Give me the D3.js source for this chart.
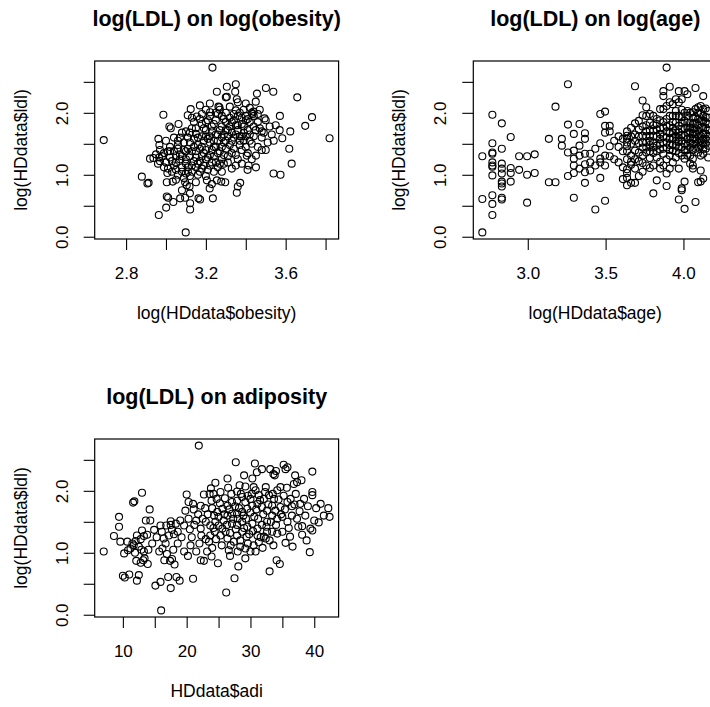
<!DOCTYPE html>
<html>
<head>
<meta charset="utf-8">
<script src="https://cdn.jsdelivr.net/npm/d3@7"></script>
<style>
  body { margin: 0; background: #fff; }
  text { font-family: "Liberation Sans", Arial, Helvetica, sans-serif; fill: #000; }
</style>
</head>
<body>
<svg id="chart" width="710" height="707"></svg>
<script>
// ---- tick values and labels ----
const ldlTicks = [0, 0.5, 1, 1.5, 2, 2.5];
const ldlTickLabels = ["0.0", "", "1.0", "", "2.0", ""];
const obesityTicks = [2.8, 3.0, 3.2, 3.4, 3.6, 3.8];
const obesityTickLabels = ["2.8", "", "3.2", "", "3.6", ""];
const ageTicks = [3.0, 3.5, 4.0];
const ageTickLabels = ["3.0", "3.5", "4.0"];
const adiTicks = [10, 15, 20, 25, 30, 35, 40];
const adiTickLabels = ["10", "", "20", "", "30", "", "40"];

// ---- panel 1: [log(obesity), log(ldl)] ----
const obesityLdl = [
  [3.233,2.73],[2.688,1.56],[3.82,1.59],[3.658,2.25],[3.732,1.93],[3.698,1.79],[3.571,1.95],
  [3.501,2.40],[3.538,2.34],[3.456,2.31],[3.350,2.46],[3.305,2.42],[3.255,2.34],[3.347,2.34],
  [3.305,2.26],[3.623,1.70],[3.583,1.59],[3.618,1.42],[3.630,1.18],[3.539,1.02],[3.574,1.00],
  [2.987,1.97],[3.124,2.06],[2.962,1.58],[2.967,1.48],[2.920,1.26],[2.937,1.27],[2.966,1.28],
  [2.879,0.97],[2.913,0.87],[2.907,0.86],[3.004,0.88],[3.034,0.89],[3.004,0.65],[3.011,0.63],
  [3.001,0.47],[2.964,0.35],[3.037,0.56],[3.071,0.62],[3.096,0.63],[3.121,0.54],[3.121,0.44],
  [3.099,0.07],[3.163,0.62],[3.171,0.60],[3.235,0.62],[3.219,0.78],[3.355,0.71],[3.372,0.87],
  [3.360,0.81],[3.104,0.83],[3.096,0.88],[3.118,0.81],[3.205,0.91],[3.255,0.91],[3.277,0.89],
  [3.297,0.88],[3.409,1.08],[3.451,1.12],[3.414,1.15],[3.451,1.31],[3.405,1.31],[3.007,1.03],
  [3.024,1.75],[3.017,1.78],[3.063,1.82],[3.109,1.96],[3.155,1.94],[3.221,2.01],[3.263,2.10],
  [3.268,2.09],[3.355,2.22],[3.360,2.17],[3.439,2.02],[3.434,1.98],[3.494,1.91],
  [3.01,1.10],[3.03,1.22],[2.99,1.35],[3.02,1.45],[3.04,1.15],[2.98,1.30],[3.00,1.20],[2.97,1.40],
  [3.06,1.00],[3.08,1.12],[3.07,1.25],[3.09,1.40],[3.06,1.55],[3.08,1.68],[3.09,0.95],[3.05,1.20],
  [3.07,1.33],[3.11,1.05],[3.13,1.15],[3.12,1.30],[3.14,1.45],[3.11,1.60],[3.13,1.75],[3.14,1.85],
  [3.12,0.98],[3.10,1.38],[3.14,1.22],[3.16,1.00],[3.18,1.10],[3.17,1.22],[3.19,1.35],[3.16,1.48],
  [3.18,1.62],[3.19,1.75],[3.17,1.90],[3.15,1.28],[3.19,1.55],[3.21,1.08],[3.23,1.20],[3.22,1.32],
  [3.24,1.45],[3.21,1.58],[3.23,1.70],[3.24,1.82],[3.22,1.95],[3.20,1.40],[3.25,1.65],[3.26,1.12],
  [3.28,1.25],[3.27,1.38],[3.29,1.52],[3.26,1.65],[3.28,1.78],[3.29,1.90],[3.27,2.05],[3.25,1.45],
  [3.30,1.72],[3.31,1.20],[3.33,1.35],[3.32,1.48],[3.34,1.60],[3.31,1.72],[3.33,1.85],[3.34,1.98],
  [3.32,2.10],[3.30,1.55],[3.35,1.80],[3.36,1.25],[3.38,1.40],[3.37,1.55],[3.39,1.68],[3.36,1.80],
  [3.38,1.92],[3.39,2.05],[3.37,1.62],[3.40,1.88],[3.41,1.35],[3.43,1.50],[3.42,1.65],[3.44,1.78],
  [3.41,1.90],[3.43,2.00],[3.45,1.72],[3.46,1.45],[3.48,1.60],[3.47,1.75],[3.50,1.88],[3.49,1.68],
  [3.51,1.52],[3.53,1.65],[3.55,1.80],[3.57,1.72],
  [2.95,1.33],[2.96,1.18],[3.02,1.38],[3.05,1.08],[3.10,1.18],[3.15,1.12],[3.20,1.25],[3.24,1.05],
  [3.29,1.18],[3.33,1.10],[3.15,1.66],[3.20,1.85],[3.26,1.98],[3.35,2.04],[3.42,2.08],[3.46,1.98],
  [3.12,1.52],[3.06,1.42],[3.28,1.60],[3.40,1.45],[3.48,1.40],[3.38,1.18],[3.18,1.45],[3.22,1.52],
  [3.02,1.28],[3.04,1.38],[3.03,1.05],[3.05,1.30],[3.06,1.48],[3.08,1.05],[3.08,1.30],[3.09,1.52],
  [3.10,1.25],[3.11,1.42],[3.11,1.12],[3.12,1.68],[3.13,1.38],[3.13,1.05],[3.14,1.58],[3.15,1.38],
  [3.15,1.75],[3.16,1.18],[3.16,1.60],[3.17,1.42],[3.17,1.05],[3.18,1.30],[3.18,1.82],[3.19,1.15],
  [3.20,1.62],[3.20,1.72],[3.21,1.28],[3.21,1.88],[3.22,1.15],[3.22,1.62],[3.23,1.40],[3.23,1.78],
  [3.24,1.30],[3.24,1.55],[3.25,1.20],[3.25,1.88],[3.26,1.35],[3.26,1.55],[3.27,1.72],[3.27,1.18],
  [3.28,1.45],[3.28,1.95],[3.29,1.32],[3.29,1.65],[3.30,1.42],[3.30,1.85],[3.31,1.62],[3.31,1.30],
  [3.32,1.78],[3.32,1.92],[3.33,1.55],[3.33,1.68],[3.34,1.42],[3.34,1.88],[3.35,1.65],[3.35,1.32],
  [3.36,1.72],[3.36,1.95],[3.37,1.48],[3.37,2.00],[3.38,1.82],[3.38,1.62],[3.39,1.78],[3.39,1.55],
  [3.40,1.95],[3.40,1.62],[3.41,1.72],[3.42,1.85],[3.42,1.55],[3.44,1.95],[3.44,1.62],[3.46,1.85],
  [3.47,2.05],[3.48,1.70],[3.30,2.00],[3.25,2.00],[3.20,2.05],[3.18,1.98],[3.13,1.92],[3.10,1.70],
  [3.07,1.60],[3.04,1.60],[3.00,1.55],[2.97,1.22],[2.99,1.12],[3.01,1.38],[3.10,1.02],[3.20,0.98],
  [3.28,1.05],[3.35,1.15],[3.43,1.25],[3.50,1.40],[3.52,1.78],[3.54,1.55],[3.05,0.92],[3.15,0.88],
  [3.23,0.85],[3.12,0.70],[3.08,0.75],[3.40,2.15],[3.30,2.25],[3.45,2.18],[3.22,2.15],[3.17,2.12]
];

// ---- panel 2: [age, log(ldl)] ----
const ageLdl = [
  [15,1.30],[15,0.61],[15,0.07],
  [16,1.97],[16,1.51],[16,1.36],[16,1.34],[16,1.20],[16,1.15],[16,1.13],[16,0.99],[16,0.67],[16,0.53],[16,0.35],
  [17,1.83],[17,1.42],[17,1.18],[17,1.10],[17,1.02],[17,0.89],[17,0.86],[17,0.81],[17,0.63],[17,0.60],
  [18,1.61],[18,1.11],[18,1.03],[18,0.89],
  [19,1.30],[19,1.08],
  [20,1.30],[20,1.00],[20,0.55],
  [21,1.33],[21,1.03],
  [23,1.58],[23,0.88],
  [24,2.10],[24,0.88],
  [25,1.58],[25,1.47],
  [26,2.46],[26,1.81],[26,1.36],[26,0.98],
  [27,1.66],[27,1.39],[27,1.26],[27,1.15],[27,1.03],[27,0.63],
  [28,1.82],[28,1.47],[28,1.31],[28,1.10],
  [29,1.67],[29,1.58],[29,1.34],[29,1.17],[29,1.04],[29,0.87],
  [30,1.34],[30,1.20],[30,1.07],
  [31,1.42],[31,1.15],[31,0.44],
  [32,1.98],[32,1.51],[32,1.26],[32,1.20],[32,0.95],
  [33,2.02],[33,1.79],[33,1.68],[33,1.31],[33,1.15],[33,0.58],
  [34,1.79],[34,1.70],[34,1.46],[34,1.30],
  [35,1.55],[35,1.25],
  [36,1.20],[36,1.62],[36,1.45],
  [37,1.12],[37,0.93],[37,1.58],[37,1.38],
  [38,1.70],[38,1.63],[38,1.52],[38,1.46],[38,1.25],[38,1.09],[38,1.03],[38,0.95],[38,0.83],[38,1.38],[38,1.58],
  [39,1.76],[39,1.31],[39,1.21],[39,1.16],[39,0.87],[39,1.50],[39,1.62],
  [40,2.43],[40,1.83],[40,1.55],[40,1.39],[40,0.87],[40,1.65],[40,1.25],[40,1.10],
  [41,1.87],[41,1.73],[41,1.51],[41,1.36],[41,1.62],[41,1.22],[41,0.98],
  [42,2.20],[42,1.96],[42,1.78],[42,1.63],[42,1.44],[42,1.31],[42,1.19],[42,1.52],[42,1.05],
  [43,2.09],[43,1.95],[43,1.70],[43,1.52],[43,1.36],[43,1.15],[43,1.62],[43,1.44],[43,1.80],
  [44,1.98],[44,1.84],[44,1.63],[44,1.48],[44,1.27],[44,1.11],[44,1.72],[44,1.55],[44,1.38],
  [45,1.95],[45,1.71],[45,1.51],[45,1.35],[45,1.15],[45,0.70],[45,1.62],[45,1.44],[45,1.80],
  [46,1.90],[46,1.73],[46,1.47],[46,1.28],[46,0.91],[46,1.62],[46,1.38],[46,1.82],
  [47,2.06],[47,1.75],[47,1.58],[47,1.41],[47,1.21],[47,1.10],[47,1.66],[47,1.50],[47,1.88],
  [48,2.35],[48,2.27],[48,2.06],[48,1.76],[48,1.52],[48,1.34],[48,1.15],[48,1.85],[48,1.62],[48,1.42],
  [49,2.73],[49,2.11],[49,1.78],[49,1.60],[49,1.44],[49,1.25],[49,1.02],[49,0.82],[49,1.90],[49,1.70],[49,1.52],
  [50,2.42],[50,2.17],[50,1.80],[50,1.67],[50,1.48],[50,1.31],[50,1.10],[50,1.95],[50,1.58],[50,1.40],
  [51,2.14],[51,1.95],[51,1.76],[51,1.60],[51,1.39],[51,1.20],[51,1.85],[51,1.68],[51,1.48],
  [52,2.22],[52,2.03],[52,1.84],[52,1.63],[52,1.47],[52,1.28],[52,1.95],[52,1.72],[52,1.55],[52,1.38],
  [53,2.35],[53,2.17],[53,1.79],[53,1.68],[53,1.53],[53,1.35],[53,1.10],[53,0.60],[53,1.95],[53,1.60],[53,1.44],
  [54,2.22],[54,1.93],[54,1.74],[54,1.55],[54,1.31],[54,0.78],[54,0.75],[54,2.05],[54,1.84],[54,1.64],[54,1.45],
  [55,2.35],[55,1.87],[55,1.63],[55,1.50],[55,1.26],[55,0.89],[55,0.45],[55,2.00],[55,1.75],[55,1.40],
  [56,2.30],[56,2.03],[56,1.84],[56,1.68],[56,1.47],[56,1.31],[56,1.95],[56,1.76],[56,1.58],[56,1.40],
  [57,1.84],[57,1.76],[57,1.60],[57,1.44],[57,1.31],[57,1.18],[57,2.00],[57,1.68],[57,1.52],
  [58,2.01],[58,1.82],[58,1.66],[58,1.50],[58,1.26],[58,1.15],[58,1.10],[58,1.92],[58,1.74],[58,1.58],[58,1.40],
  [59,2.40],[59,2.06],[59,1.93],[59,1.75],[59,1.58],[59,1.42],[59,0.56],[59,1.84],[59,1.66],[59,1.50],
  [60,2.09],[60,1.90],[60,1.71],[60,1.52],[60,1.36],[60,0.88],[60,2.00],[60,1.80],[60,1.62],[60,1.44],
  [61,2.11],[61,1.98],[61,1.76],[61,1.63],[61,1.47],[61,1.31],[61,1.07],[61,0.89],[61,1.87],[61,1.55],
  [62,2.27],[62,2.06],[62,1.87],[62,1.66],[62,1.51],[62,1.34],[62,0.94],[62,1.95],[62,1.76],[62,1.58],[62,1.42],
  [63,2.07],[63,1.93],[63,1.76],[63,1.58],[63,1.42],[63,1.85],[63,1.66],[63,1.50],
  [64,2.03],[64,1.82],[64,1.63],[64,1.47],[64,1.28],[64,1.92],[64,1.72],[64,1.55]
];

// ---- panel 3: [adiposity, log(ldl)] ----
const adiLdl = [
  [7.0,1.02],[8.6,1.27],[9.4,1.58],[9.4,1.42],[9.6,1.18],[10.2,0.99],[10.8,1.04],[11.2,1.07],
  [10.0,0.63],[10.3,0.60],[11.0,0.65],[12.2,0.55],[12.5,0.64],[11.6,1.81],[11.8,1.83],[13.0,1.97],
  [14.2,1.70],[10.7,1.18],[11.5,1.15],[12.0,1.19],[12.2,1.28],[12.8,1.22],[13.3,1.27],[13.8,1.29],
  [12.5,1.10],[11.7,1.12],[13.0,1.36],[13.6,1.52],[14.3,1.52],[14.9,1.37],[13.3,1.02],[12.1,0.87],
  [12.8,0.84],[13.2,0.88],[13.4,0.91],
  [15.1,0.47],[15.9,0.53],[16.0,0.07],[17.5,0.43],[17.1,0.61],[18.4,0.61],[18.9,0.55],[21.0,0.58],
  [16.5,0.88],[17.4,0.87],[17.7,0.90],[18.1,0.81],
  [15.7,1.02],[16.2,1.07],[16.7,1.15],[16.4,1.23],[16.1,1.34],[17.2,1.28],[17.7,1.37],[17.5,1.45],
  [16.8,1.44],[15.9,1.44],[17.5,1.51],[18.3,1.47],[18.6,1.34],[19.6,1.44],[19.0,1.52],[20.3,1.55],
  [20.6,1.12],[19.6,1.02],[20.2,0.95],
  [21.9,2.73],[20.0,1.94],[20.3,1.82],[21.0,1.79],[21.1,1.70],[22.2,1.76],[22.7,1.94],[23.8,2.04],
  [24.5,2.13],[23.9,1.84],[24.7,1.87],
  [21.5,1.52],[22.2,1.39],[23.0,1.50],[22.3,1.28],[23.0,1.22],[23.5,1.18],[23.7,1.28],[24.4,1.34],
  [22.7,0.87],[22.2,0.88],[23.9,0.94],[24.9,0.83],
  [25.3,1.98],[26.4,2.20],[27.7,2.46],[27.9,1.99],[28.3,2.09],[29.2,2.07],[30.3,2.20],[30.7,2.44],
  [31.8,2.35],[30.5,2.06],[30.8,2.01],[32.4,2.06],[33.1,2.35],[33.6,2.27],[33.8,2.25],[35.2,2.42],
  [35.5,2.35],[35.8,2.38],[34.2,2.01],[34.7,2.06],[36.8,2.11],[37.3,2.14],[38.0,2.17],[39.7,2.31],
  [39.7,1.98],[39.7,1.93],[41.0,1.79],[42.2,1.72],[42.4,1.58],[40.7,1.49],[40.0,1.52],[39.4,1.39],
  [39.7,1.36],[38.1,1.29],[38.1,1.43],[37.7,1.67],[36.5,1.75],[35.8,1.82],[36.3,1.87],[37.1,1.95],
  [38.4,1.87],[37.8,1.79],
  [26.2,0.36],[27.5,0.59],[28.1,0.78],[29.2,0.91],[30.0,1.02],[30.8,1.02],[30.5,1.12],[31.3,1.17],
  [31.1,1.28],[32.1,1.26],[32.4,1.23],[33.0,0.70],[34.1,0.88],[34.6,0.82],[35.5,1.16],[36.2,1.26],
  [39.3,1.01],
  [26.4,1.23],[26.9,1.12],[26.6,1.04],[27.4,1.18],[27.9,1.28],[28.7,1.34],[29.4,1.26],[28.4,1.10],
  [29.2,1.07],[26.1,1.34],[25.6,1.39],[25.0,1.44],[25.8,1.52],[26.4,1.60],[27.1,1.63],[27.9,1.63],
  [28.7,1.66],[29.5,1.71],[30.3,1.76],[31.1,1.79],[31.8,1.74],[32.6,1.68],[33.4,1.76],[33.7,1.87],
  [32.9,1.93],[32.1,1.87],[31.3,1.93],[30.0,1.87],[29.2,1.82],[28.7,1.90],[27.9,1.84],[27.1,1.82],
  [26.4,1.76],[25.6,1.71],[24.8,1.66],[24.3,1.60],[24.5,1.50],[25.3,1.28],[23.7,1.44],[33.4,1.60],
  [32.6,1.50],[31.8,1.45],[31.1,1.39],[30.3,1.47],[29.5,1.42],[28.7,1.50],[27.9,1.45],[27.1,1.47],
  [34.2,1.55],[35.0,1.58],[35.8,1.50],[36.5,1.60],[37.3,1.55],[34.7,1.74],[35.0,1.34],[34.2,1.31],
  [33.4,1.34],[32.6,1.34],
  [20.5,1.38],[21.2,1.45],[21.8,1.62],[22.5,1.55],[22.9,1.72],[23.3,1.62],[23.6,1.95],[24.0,1.72],
  [24.2,1.40],[24.6,1.22],[25.0,1.58],[25.2,1.80],[25.5,1.12],[25.9,1.62],[26.0,1.88],[26.3,1.45],
  [26.7,1.70],[26.8,1.32],[27.0,1.95],[27.3,1.55],[27.6,1.75],[27.7,1.38],[28.0,1.55],[28.2,1.72],
  [28.4,1.20],[28.5,1.95],[28.9,1.60],[29.0,1.40],[29.3,1.55],[29.6,1.92],[29.8,1.30],[30.0,1.65],
  [30.2,1.95],[30.4,1.35],[30.6,1.58],[30.9,1.70],[31.2,1.55],[31.5,1.85],[31.6,1.25],[32.0,1.62],
  [32.3,1.98],[32.5,1.42],[32.8,1.78],[33.0,1.20],[33.2,1.50],[33.5,1.95],[33.9,1.68],[34.0,1.45],
  [34.4,1.86],[34.8,1.62],[35.2,1.92],[35.4,1.70],[35.7,2.05],[36.0,1.40],[36.9,1.78],[37.5,1.42],
  [38.6,1.60],[39.0,1.75],[22.0,1.15],[21.5,1.02],[20.8,1.25],[19.2,1.25],[18.6,1.15],[18.0,1.30],
  [17.9,1.05],[16.9,0.98],[19.8,1.68],[15.3,1.25],[14.6,1.15],[14.0,1.05],[13.9,0.82],[12.9,1.05],
  [11.9,1.00],[24.0,1.08],[23.2,1.02],[26.8,0.95],[28.0,1.02],[29.6,1.15],[31.9,1.08],[33.6,1.12],
  [36.6,1.10],[38.8,1.20],[41.5,1.60],[40.3,1.72],[37.0,2.25],[34.0,2.32],[31.0,2.30],[29.0,2.25],
  [26.5,2.05],[24.2,1.95]
];

// ---- layout (pixels) ----
const svg = d3.select("#chart");
const panelW = 378.6, panelH = 378;
const box = { left: 94.7, right: 338.6, top: 61, bottom: 239 };
const font = { title: 21.5, tick: 17, label: 17.5 };

// R-style range: data extent padded by 4% on each side
function padded(values) {
  const [lo, hi] = d3.extent(values);
  const pad = (hi - lo) * 0.04;
  return [lo - pad, hi + pad];
}

const panels = [
  { col: 0, row: 0, data: obesityLdl, xf: d => d[0],
    title: "log(LDL) on log(obesity)", xlab: "log(HDdata$obesity)",
    xTicks: obesityTicks, xLabels: obesityTickLabels },
  { col: 1, row: 0, data: ageLdl, xf: d => Math.log(d[0]),
    title: "log(LDL) on log(age)", xlab: "log(HDdata$age)",
    xTicks: ageTicks, xLabels: ageTickLabels },
  { col: 0, row: 1, data: adiLdl, xf: d => d[0],
    title: "log(LDL) on adiposity", xlab: "HDdata$adi",
    xTicks: adiTicks, xLabels: adiTickLabels }
];

panels.forEach(p => {
  const ox = p.col * panelW, oy = p.row * panelH;
  const L = box.left + ox, R = box.right + ox, T = box.top + oy, B = box.bottom + oy;
  const x = d3.scaleLinear().domain(padded(p.data.map(p.xf))).range([L, R]);
  const y = d3.scaleLinear().domain(padded(p.data.map(d => d[1]))).range([B, T]);
  const g = svg.append("g");

  // points (open circles)
  g.append("g").selectAll("circle").data(p.data).join("circle")
    .attr("cx", d => x(p.xf(d)))
    .attr("cy", d => y(d[1]))
    .attr("r", 3.5)
    .attr("fill", "none")
    .attr("stroke", "#000")
    .attr("stroke-width", 1.1);

  // bottom axis
  const xa = g.append("g").attr("transform", `translate(0,${B})`)
    .call(d3.axisBottom(x).tickValues(p.xTicks)
      .tickFormat((d, i) => p.xLabels[i]).tickSize(11).tickSizeOuter(0));
  xa.attr("font-family", null);
  xa.select(".domain").remove();
  xa.selectAll("line").attr("stroke", "#000").attr("stroke-width", 1.1);
  xa.selectAll("text").attr("y", 40).attr("dy", null).attr("font-size", font.tick);

  // left axis, labels parallel to the axis
  const ya = g.append("g").attr("transform", `translate(${L},0)`)
    .call(d3.axisLeft(y).tickValues(ldlTicks)
      .tickFormat((d, i) => ldlTickLabels[i]).tickSize(11).tickSizeOuter(0));
  ya.attr("font-family", null);
  ya.select(".domain").remove();
  ya.selectAll("line").attr("stroke", "#000").attr("stroke-width", 1.1);
  ya.selectAll("text").attr("x", 0).attr("dy", null)
    .attr("text-anchor", "middle")
    .attr("transform", "translate(-27,0) rotate(-90)")
    .attr("font-size", font.tick);

  // frame
  g.append("rect").attr("x", L).attr("y", T)
    .attr("width", R - L).attr("height", B - T)
    .attr("fill", "none").attr("stroke", "#000").attr("stroke-width", 1.2);

  const cx = (L + R) / 2, cy = (T + B) / 2;
  g.append("text").attr("x", cx).attr("y", oy + 26)
    .attr("text-anchor", "middle").attr("font-weight", "bold")
    .attr("font-size", font.title).text(p.title);
  g.append("text").attr("x", cx).attr("y", B + 80)
    .attr("text-anchor", "middle").attr("font-size", font.label).text(p.xlab);
  g.append("text")
    .attr("transform", `translate(${L - 68},${cy}) rotate(-90)`)
    .attr("text-anchor", "middle").attr("font-size", font.label)
    .text("log(HDdata$ldl)");
});
</script>
</body>
</html>
